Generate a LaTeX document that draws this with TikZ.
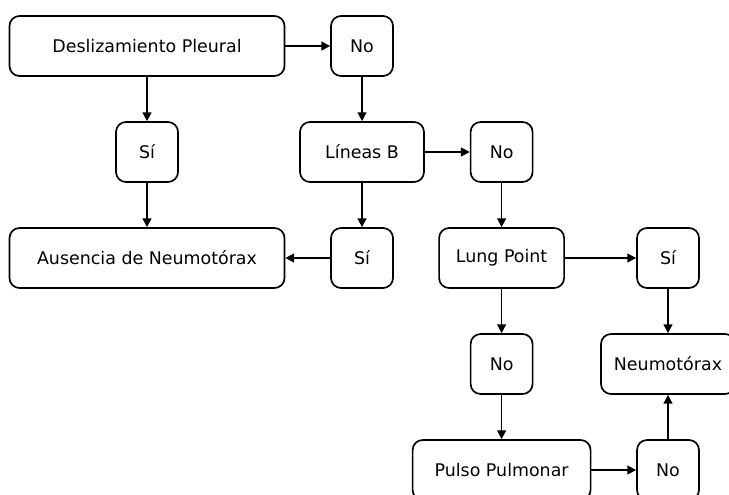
\documentclass[tikz,border=0pt]{standalone}
\usepackage{fontspec}
\setmainfont{DejaVu Sans}
\usepackage{tikz}
\usetikzlibrary{shapes.geometric, arrows.meta, positioning, calc}
\tikzstyle{box} = [rectangle, rounded corners=0.25cm, minimum height=1.5cm, text centered, draw=black, line width=1.2pt, font=\fontsize{12.4}{14}\selectfont]
\tikzstyle{answer} = [box, minimum width=1.55cm]
\tikzstyle{arrow} = [line width=1.2pt, -{Triangle[length=2.2mm, width=2.2mm]}]

\begin{document}
\begin{tikzpicture}[node distance=2.65cm]
    \clip (0,0) rectangle (18.225,-12.35);
    \node (desl) [box, minimum width=6.875cm] at (3.675,-1.15) {Deslizamiento Pleural};
    \node (no1) [answer, right of=desl, xshift=2.725cm] {No};
    \node (si1) [answer, below of=desl] {Sí};
    \node (lineas) [box, minimum width=3.1cm, below of=no1] {Líneas B};
    \node (no2) [answer, right of=lineas, xshift=0.84cm] {No};
    \node (ausencia) [box, minimum width=6.875cm, below of=si1] {Ausencia de Neumotórax};
    \node (si2) [answer, below of=lineas] {Sí};
    \node (lung) [box, minimum width=3.125cm, below of=no2] {Lung Point};
    \node (si3) [answer, right of=lung, xshift=1.51cm] {Sí};
    \node (no3) [answer, below of=lung] {No};
    \node (neumo) [box, minimum width=3.35cm, below of=si3] {Neumotórax};
    \node (pulso) [box, minimum width=4.45cm, below of=no3] {Pulso Pulmonar};
    \node (no4) [answer, below of=neumo] {No};

    \draw [arrow] (desl) -- (no1);
    \draw [arrow] (desl) -- (si1);
    \draw [arrow] (si1) -- (ausencia);
    \draw [arrow] (no1) -- (lineas);
    \draw [arrow] (lineas) -- (no2);
    \draw [arrow] (lineas) -- (si2);
    \draw [arrow] (si2) -- (ausencia);
    \draw [arrow] (no2) -- (lung);
    \draw [arrow] (lung) -- (si3);
    \draw [arrow] (lung) -- (no3);
    \draw [arrow] (si3) -- (neumo);
    \draw [arrow] (no3) -- (pulso);
    \draw [arrow] (pulso) -- (no4);
    \draw [arrow] (no4) -- (neumo);
  \end{tikzpicture}
\end{document}
